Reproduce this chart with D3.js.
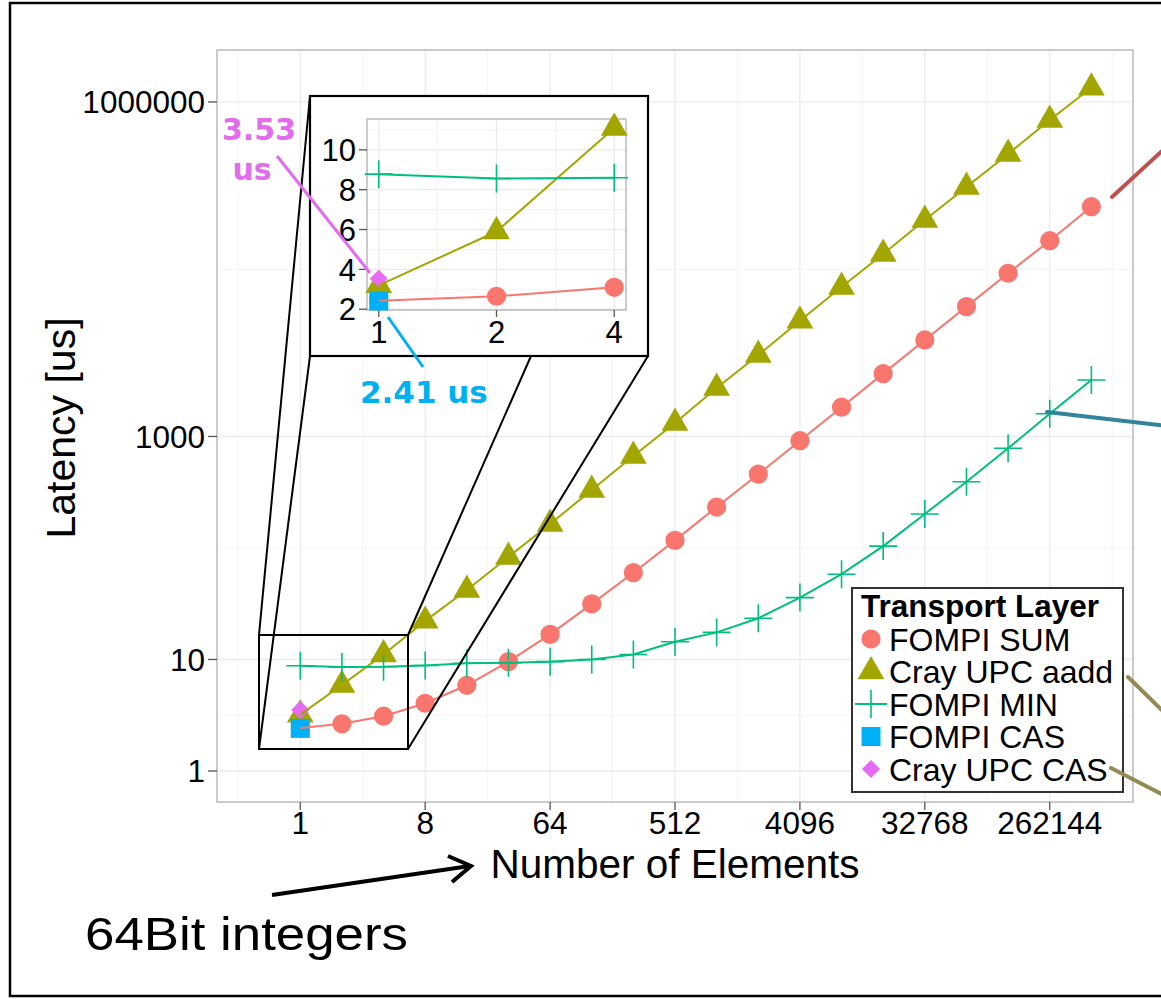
<!DOCTYPE html>
<html>
<head>
<meta charset="utf-8">
<script src="https://cdn.jsdelivr.net/npm/d3@7"></script>
<style>
  body { margin: 0; background: #fff; }
  text { font-family: "Liberation Sans", Arial, sans-serif; }
  text.callout { font-family: "DejaVu Sans", Verdana, sans-serif; font-weight: bold; }
</style>
</head>
<body>
<svg width="1161" height="999"></svg>
<script>
// ---- data ----
const elements = [1, 2, 4, 8, 16, 32, 64, 128, 256, 512, 1024, 2048, 4096, 8192,
                  16384, 32768, 65536, 131072, 262144, 524288];
const fompiSum = [2.43, 2.65, 3.1, 4.05, 5.87, 9.56, 16.8, 31.5, 60.0, 117, 233, 459,
                  917, 1830, 3660, 7340, 14600, 29100, 57000, 115000];
const crayAadd = [3.2, 5.9, 11.1, 22.2, 42.0, 83.0, 164, 331, 668, 1320, 2720, 5380,
                  10900, 21900, 43300, 87500, 173000, 342000, 690000, 1340000];
const fompiMin = [8.78, 8.56, 8.6, 8.84, 9.25, 9.36, 9.56, 10.0, 11.1, 14.4, 17.5, 23.4,
                  35.9, 58.2, 104, 202, 393, 783, 1600, 3210];
const fompiCas = [2.41];
const crayCas = [3.53];

const seriesNames = ['FOMPI SUM', 'Cray UPC aadd', 'FOMPI MIN', 'FOMPI CAS', 'Cray UPC CAS'];
const seriesColors = ['#F8766D', '#A3A500', '#00BF7D', '#00B0F6', '#E76BF3'];
const seriesShapes = ['circle', 'triangle', 'plus', 'square', 'diamond'];

const xTicks = [1, 8, 64, 512, 4096, 32768, 262144];
const yTicks = [1, 10, 1000, 1000000];
const insetXTicks = [1, 2, 4];
const insetYTicks = [2, 4, 6, 8, 10];

const svg = d3.select('svg');

svg.append('rect').attr('width', 1161).attr('height', 999).attr('fill', '#fff');

// outer slide frame
svg.append('rect')
  .attr('x', 10).attr('y', 3).attr('width', 1200).attr('height', 993)
  .attr('fill', 'none').attr('stroke', '#000').attr('stroke-width', 2.5);

// ---- marker helper ----
const drawMarker = (g, shape, x, y, color) => {
  if (shape === 'circle') {
    g.append('path').attr('d', d3.symbol(d3.symbolCircle, 290)())
      .attr('transform', `translate(${x},${y})`).attr('fill', color);
  } else if (shape === 'triangle') {
    g.append('path').attr('d', d3.symbol(d3.symbolTriangle, 310)())
      .attr('transform', `translate(${x},${y})`).attr('fill', color);
  } else if (shape === 'square') {
    g.append('path').attr('d', d3.symbol(d3.symbolSquare, 361)())
      .attr('transform', `translate(${x},${y})`).attr('fill', color);
  } else if (shape === 'diamond') {
    g.append('path').attr('d', d3.symbol(d3.symbolSquare, 165)())
      .attr('transform', `translate(${x},${y}) rotate(45)`).attr('fill', color);
  } else if (shape === 'plus') {
    g.append('path').attr('d', 'M-14,0H14M0,-14V14')
      .attr('transform', `translate(${x},${y})`)
      .attr('stroke', color).attr('stroke-width', 1.6).attr('fill', 'none');
  }
};

// ---- main panel ----
const panel = { left: 217, top: 50, right: 1133, bottom: 802 };

const xScale = d3.scaleLog().base(2)
  .domain([Math.pow(2, -2), Math.pow(2, 20)])
  .range([panel.left, panel.right]);
const yScale = d3.scaleLog()
  .domain([0.527, 2925000])
  .range([panel.bottom, panel.top]);

const g = svg.append('g');

// grid
const xMinor = xTicks.map(t => t / Math.sqrt(8)).concat([262144 * Math.sqrt(8)]);
const yMinor = [Math.sqrt(10), 100, Math.pow(10, 4.5)];
g.selectAll('.xminor').data(xMinor).enter().append('line')
  .attr('x1', d => xScale(d)).attr('x2', d => xScale(d))
  .attr('y1', panel.top).attr('y2', panel.bottom)
  .attr('stroke', '#f4f4f4').attr('stroke-width', 1);
g.selectAll('.yminor').data(yMinor).enter().append('line')
  .attr('x1', panel.left).attr('x2', panel.right)
  .attr('y1', d => yScale(d)).attr('y2', d => yScale(d))
  .attr('stroke', '#f4f4f4').attr('stroke-width', 1);
g.selectAll('.xmajor').data(xTicks).enter().append('line')
  .attr('x1', d => xScale(d)).attr('x2', d => xScale(d))
  .attr('y1', panel.top).attr('y2', panel.bottom)
  .attr('stroke', '#ebebeb').attr('stroke-width', 1.3);
g.selectAll('.ymajor').data(yTicks).enter().append('line')
  .attr('x1', panel.left).attr('x2', panel.right)
  .attr('y1', d => yScale(d)).attr('y2', d => yScale(d))
  .attr('stroke', '#ebebeb').attr('stroke-width', 1.3);

g.append('rect')
  .attr('x', panel.left).attr('y', panel.top)
  .attr('width', panel.right - panel.left).attr('height', panel.bottom - panel.top)
  .attr('fill', 'none').attr('stroke', '#b0b0b0').attr('stroke-width', 1.3);

// axes ticks + labels
g.selectAll('.ytick').data(yTicks).enter().append('line')
  .attr('x1', panel.left - 9).attr('x2', panel.left)
  .attr('y1', d => yScale(d)).attr('y2', d => yScale(d))
  .attr('stroke', '#555').attr('stroke-width', 1.3);
g.selectAll('.ylab').data(yTicks).enter().append('text')
  .attr('x', panel.left - 12).attr('y', d => yScale(d)).attr('dy', '0.36em')
  .attr('text-anchor', 'end').attr('font-size', 31.5).text(d => d);
g.selectAll('.xtick').data(xTicks).enter().append('line')
  .attr('x1', d => xScale(d)).attr('x2', d => xScale(d))
  .attr('y1', panel.bottom).attr('y2', panel.bottom + 8)
  .attr('stroke', '#555').attr('stroke-width', 1.3);
g.selectAll('.xlab').data(xTicks).enter().append('text')
  .attr('x', d => xScale(d)).attr('y', 834)
  .attr('text-anchor', 'middle').attr('font-size', 31.5).text(d => d);

g.append('text')
  .attr('x', 675).attr('y', 878).attr('text-anchor', 'middle')
  .attr('font-size', 40.5).text('Number of Elements');
g.append('text')
  .attr('transform', 'translate(75,428) rotate(-90)')
  .attr('text-anchor', 'middle').attr('font-size', 41).text('Latency [us]');

// data
const multi = [fompiSum, crayAadd, fompiMin];
const lineMain = d3.line().x(d => xScale(d[0])).y(d => yScale(d[1]));
multi.forEach((vals, i) => {
  vals.forEach((v, j) => drawMarker(g, seriesShapes[i], xScale(elements[j]), yScale(v), seriesColors[i]));
});
drawMarker(g, 'square', xScale(elements[0]), yScale(fompiCas[0]), seriesColors[3]);
drawMarker(g, 'diamond', xScale(elements[0]), yScale(crayCas[0]), seriesColors[4]);
multi.forEach((vals, i) => {
  g.append('path').datum(vals.map((v, j) => [elements[j], v]))
    .attr('d', lineMain).attr('fill', 'none')
    .attr('stroke', seriesColors[i]).attr('stroke-width', 2);
});

// ---- zoom frame ----
const zoomBox = { x0: 259, y0: 635, x1: 408, y1: 749 };
const insetBox = { x0: 310, y0: 96, x1: 648, y1: 356 };
const connectors = [
  [zoomBox.x0, zoomBox.y0, insetBox.x0, insetBox.y0],
  [zoomBox.x0, zoomBox.y1, insetBox.x0, insetBox.y1],
  [zoomBox.x1, zoomBox.y0, 531, insetBox.y1],
  [zoomBox.x1, zoomBox.y1, insetBox.x1, insetBox.y1]
];
svg.selectAll('.conn').data(connectors).enter().append('line')
  .attr('x1', d => d[0]).attr('y1', d => d[1]).attr('x2', d => d[2]).attr('y2', d => d[3])
  .attr('stroke', '#000').attr('stroke-width', 2);
svg.append('rect')
  .attr('x', zoomBox.x0).attr('y', zoomBox.y0)
  .attr('width', zoomBox.x1 - zoomBox.x0).attr('height', zoomBox.y1 - zoomBox.y0)
  .attr('fill', 'none').attr('stroke', '#000').attr('stroke-width', 2);
svg.append('rect')
  .attr('x', insetBox.x0).attr('y', insetBox.y0)
  .attr('width', insetBox.x1 - insetBox.x0).attr('height', insetBox.y1 - insetBox.y0)
  .attr('fill', '#fff').attr('stroke', '#000').attr('stroke-width', 2.2);

// ---- inset plot ----
const ip = { left: 367, top: 119, right: 626, bottom: 310 };
const ix = d3.scaleLog().base(2).domain([Math.pow(2, -0.1), Math.pow(2, 2.1)]).range([ip.left, ip.right]);
const iy = d3.scaleLinear().domain([1.96, 11.55]).range([ip.bottom, ip.top]);
const ig = svg.append('g');

const ixMinor = [Math.SQRT2, 2 * Math.SQRT2];
const iyMinor = [3, 5, 7, 9, 11];
ig.selectAll('.ixm').data(ixMinor).enter().append('line')
  .attr('x1', d => ix(d)).attr('x2', d => ix(d)).attr('y1', ip.top).attr('y2', ip.bottom)
  .attr('stroke', '#f4f4f4').attr('stroke-width', 1);
ig.selectAll('.iym').data(iyMinor).enter().append('line')
  .attr('x1', ip.left).attr('x2', ip.right).attr('y1', d => iy(d)).attr('y2', d => iy(d))
  .attr('stroke', '#f4f4f4').attr('stroke-width', 1);
ig.selectAll('.ixM').data(insetXTicks).enter().append('line')
  .attr('x1', d => ix(d)).attr('x2', d => ix(d)).attr('y1', ip.top).attr('y2', ip.bottom)
  .attr('stroke', '#ebebeb').attr('stroke-width', 1.3);
ig.selectAll('.iyM').data(insetYTicks).enter().append('line')
  .attr('x1', ip.left).attr('x2', ip.right).attr('y1', d => iy(d)).attr('y2', d => iy(d))
  .attr('stroke', '#ebebeb').attr('stroke-width', 1.3);
ig.append('rect')
  .attr('x', ip.left).attr('y', ip.top).attr('width', ip.right - ip.left).attr('height', ip.bottom - ip.top)
  .attr('fill', 'none').attr('stroke', '#b0b0b0').attr('stroke-width', 1.3);

ig.selectAll('.iyt').data(insetYTicks).enter().append('line')
  .attr('x1', ip.left - 8).attr('x2', ip.left).attr('y1', d => iy(d)).attr('y2', d => iy(d))
  .attr('stroke', '#555').attr('stroke-width', 1.3);
ig.selectAll('.iyl').data(insetYTicks).enter().append('text')
  .attr('x', ip.left - 11).attr('y', d => iy(d)).attr('dy', '0.36em')
  .attr('text-anchor', 'end').attr('font-size', 31).text(d => d);
ig.selectAll('.ixt').data(insetXTicks).enter().append('line')
  .attr('x1', d => ix(d)).attr('x2', d => ix(d)).attr('y1', ip.bottom).attr('y2', ip.bottom + 7)
  .attr('stroke', '#555').attr('stroke-width', 1.3);
ig.selectAll('.ixl').data(insetXTicks).enter().append('text')
  .attr('x', d => ix(d)).attr('y', 343)
  .attr('text-anchor', 'middle').attr('font-size', 31).text(d => d);

const lineInset = d3.line().x(d => ix(d[0])).y(d => iy(d[1]));
multi.forEach((vals, i) => {
  vals.slice(0, 3).forEach((v, j) => drawMarker(ig, seriesShapes[i], ix(elements[j]), iy(v), seriesColors[i]));
});
drawMarker(ig, 'square', ix(elements[0]), iy(fompiCas[0]), seriesColors[3]);
drawMarker(ig, 'diamond', ix(elements[0]), iy(crayCas[0]), seriesColors[4]);
multi.forEach((vals, i) => {
  ig.append('path').datum(vals.slice(0, 3).map((v, j) => [elements[j], v]))
    .attr('d', lineInset).attr('fill', 'none')
    .attr('stroke', seriesColors[i]).attr('stroke-width', 2);
});

// ---- call-out labels ----
svg.append('line').attr('x1', 277).attr('y1', 156).attr('x2', 370).attr('y2', 273)
  .attr('stroke', '#E36BEE').attr('stroke-width', 3);
svg.append('text').attr('class', 'callout').attr('x', 259).attr('y', 140)
  .attr('text-anchor', 'middle').attr('font-size', 30)
  .attr('fill', '#E36BEE').text('3.53');
svg.append('text').attr('class', 'callout').attr('x', 252).attr('y', 180)
  .attr('text-anchor', 'middle').attr('font-size', 30)
  .attr('fill', '#E36BEE').text('us');
svg.append('line').attr('x1', 388).attr('y1', 317).attr('x2', 423).attr('y2', 367)
  .attr('stroke', '#00B0F0').attr('stroke-width', 3);
svg.append('text').attr('class', 'callout').attr('x', 360).attr('y', 403)
  .attr('font-size', 31).attr('fill', '#00B0F0').text('2.41 us');

// ---- legend ----
const lg = svg.append('g');
lg.append('rect').attr('x', 852).attr('y', 588).attr('width', 271).attr('height', 204)
  .attr('fill', '#fff').attr('stroke', '#333').attr('stroke-width', 2);
lg.append('text').attr('x', 861).attr('y', 617).attr('font-size', 31.5)
  .attr('font-weight', 'bold').text('Transport Layer');
seriesNames.forEach((name, i) => {
  const cy = 639 + i * 32.5;
  if (seriesShapes[i] === 'plus') {
    lg.append('line').attr('x1', 855).attr('x2', 887).attr('y1', cy).attr('y2', cy)
      .attr('stroke', seriesColors[i]).attr('stroke-width', 2);
  }
  drawMarker(lg, seriesShapes[i], 871, cy, seriesColors[i]);
  lg.append('text').attr('x', 889).attr('y', cy).attr('dy', '0.36em')
    .attr('font-size', 32).text(name);
});

// ---- pointer lines running off to the right ----
const pointers = [
  [1112, 197, 1175, 139, '#C0504D'],
  [1047, 412, 1175, 427, '#31849B'],
  [1128, 677, 1175, 723, '#948A54'],
  [1111, 768, 1175, 801, '#948A54']
];
svg.selectAll('.ptr').data(pointers).enter().append('line')
  .attr('x1', d => d[0]).attr('y1', d => d[1]).attr('x2', d => d[2]).attr('y2', d => d[3])
  .attr('stroke', d => d[4]).attr('stroke-width', 4).attr('stroke-linecap', 'round');

// ---- slide note ----
svg.append('line').attr('x1', 272).attr('y1', 895).attr('x2', 470).attr('y2', 866)
  .attr('stroke', '#000').attr('stroke-width', 4);
svg.append('path').attr('d', 'M448,856 L471,866 L452,882')
  .attr('fill', 'none').attr('stroke', '#000').attr('stroke-width', 4)
  .attr('stroke-linejoin', 'miter');
svg.append('text').attr('x', 85).attr('y', 950).attr('font-size', 46)
  .attr('textLength', 323).attr('lengthAdjust', 'spacingAndGlyphs')
  .text('64Bit integers');
</script>
</body>
</html>
